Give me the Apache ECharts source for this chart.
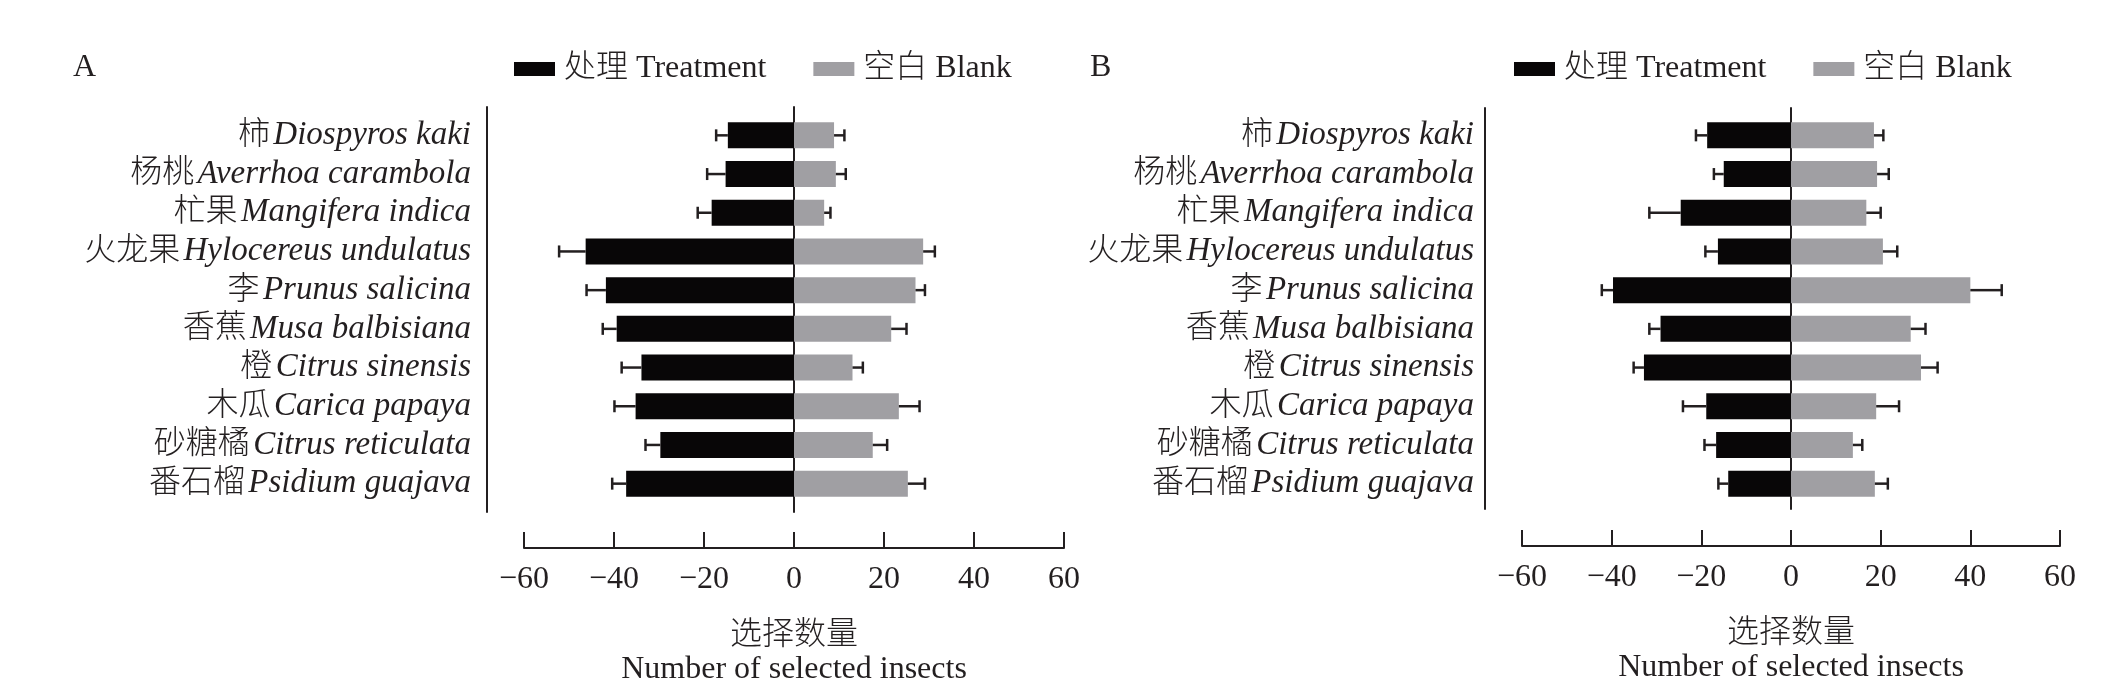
<!DOCTYPE html>
<html>
<head>
<meta charset="utf-8">
<script src="https://cdn.jsdelivr.net/npm/echarts@6/dist/echarts.min.js"></script>
<style>
html, body { margin: 0; padding: 0; background: #fff; }
#main { width: 2121px; height: 699px; }
</style>
</head>
<body>
<div id="main"></div>
<script>
// 果实名称 (中文 + 拉丁学名)
var cnNames = ['柿', '杨桃', '杧果', '火龙果', '李', '香蕉', '橙', '木瓜', '砂糖橘', '番石榴'];
var latinNames = ['Diospyros kaki', 'Averrhoa carambola', 'Mangifera indica', 'Hylocereus undulatus',
	'Prunus salicina', 'Musa balbisiana', 'Citrus sinensis', 'Carica papaya', 'Citrus reticulata', 'Psidium guajava'];
var xTicks = [-60, -40, -20, 0, 20, 40, 60];

// 图A
var treatA = [14.7, 15.2, 18.3, 46.3, 41.8, 39.4, 33.9, 35.2, 29.7, 37.3];
var treatAErr = [2.6, 4.1, 3.1, 5.9, 4.3, 3.1, 4.4, 4.7, 3.3, 3.1];
var blankA = [8.9, 9.3, 6.7, 28.7, 27.0, 21.6, 13.0, 23.3, 17.5, 25.3];
var blankAErr = [2.3, 2.2, 1.4, 2.6, 2.1, 3.4, 2.3, 4.6, 3.2, 3.8];

// 图B
var treatB = [18.7, 15.0, 24.6, 16.3, 39.7, 29.1, 32.8, 18.9, 16.7, 14.0];
var treatBErr = [2.5, 2.2, 7.0, 2.8, 2.5, 2.5, 2.3, 5.2, 2.6, 2.2];
var blankB = [18.5, 19.2, 16.8, 20.5, 40.0, 26.7, 29.0, 19.0, 13.8, 18.7];
var blankBErr = [2.1, 2.6, 3.2, 3.2, 7.0, 3.3, 3.7, 5.1, 2.1, 2.9];

var seriesNames = ['处理 Treatment', '空白 Blank'];
var colors = ['#080607', '#a09fa3'];
var ink = '#231f20';
var font = "'Liberation Serif', 'Noto Sans CJK SC', serif";

var myChart = echarts.init(document.getElementById('main'));

function errData(vals, errs, sign) {
	return vals.map(function (v, i) { return [sign * v, i, errs[i]]; });
}

function renderErr(params, api) {
	var v = api.value(0), i = api.value(1), e = api.value(2);
	var end = v < 0 ? v - e : v + e;
	var p0 = api.coord([v, i]);
	var p1 = api.coord([end, i]);
	var st = { stroke: ink, lineWidth: 2.5 };
	return {
		type: 'group',
		children: [
			{ type: 'line', shape: { x1: p0[0], y1: p0[1], x2: p1[0], y2: p1[1] }, style: st },
			{ type: 'line', shape: { x1: p1[0], y1: p1[1] - 6, x2: p1[0], y2: p1[1] + 6 }, style: st }
		]
	};
}

function valueAxis(gridIndex, offset, visible) {
	return {
		type: 'value',
		gridIndex: gridIndex,
		min: xTicks[0],
		max: xTicks[xTicks.length - 1],
		interval: 20,
		show: visible,
		offset: offset,
		position: 'bottom',
		name: '选择数量\nNumber of selected insects',
		nameLocation: 'middle',
		nameGap: 71,
		nameTextStyle: { fontFamily: font, fontSize: 32, fontWeight: 300, color: ink, lineHeight: 34 },
		axisLine: { show: true, onZero: false, lineStyle: { color: ink, width: 2 } },
		axisTick: { show: true, inside: true, length: 16, lineStyle: { color: ink, width: 2 } },
		axisLabel: {
			margin: 16,
			fontFamily: font,
			fontSize: 32,
			color: ink,
			formatter: function (v) { return v < 0 ? '\u2212' + (-v) : String(v); }
		},
		splitLine: { show: false }
	};
}

function catAxis(gridIndex, margin) {
	return {
		type: 'category',
		gridIndex: gridIndex,
		inverse: true,
		data: cnNames,
		axisLine: { show: false },
		axisTick: { show: false },
		axisLabel: {
			margin: margin,
			formatter: function (v, idx) {
				return '{cn|' + cnNames[idx] + '} {la|' + latinNames[idx] + '}';
			},
			rich: {
				cn: { fontFamily: font, fontSize: 32, fontWeight: 300, color: ink },
				la: { fontFamily: font, fontSize: 33, color: ink, fontStyle: 'italic' }
			}
		}
	};
}

function lineAxis(gridIndex, offset, onZero) {
	return {
		type: 'value',
		gridIndex: gridIndex,
		min: 0,
		max: 1,
		position: 'left',
		offset: offset,
		axisLine: { show: true, onZero: onZero, lineStyle: { color: ink, width: 2 } },
		axisTick: { show: false },
		axisLabel: { show: false },
		splitLine: { show: false }
	};
}

function barSeries(name, idx, data, color) {
	return {
		name: name,
		type: 'bar',
		xAxisIndex: idx,
		yAxisIndex: idx,
		barWidth: 26,
		barGap: '-100%',
		itemStyle: { color: color },
		data: data
	};
}

function errSeries(idx, data) {
	return {
		type: 'custom',
		xAxisIndex: idx,
		yAxisIndex: idx,
		encode: { x: 0, y: 1 },
		renderItem: renderErr,
		data: data,
		z: 5
	};
}

function legendAt(left) {
	return {
		left: left,
		top: 53,
		padding: 0,
		itemWidth: 41,
		itemHeight: 14,
		itemGap: 47,
		icon: 'rect',
		data: seriesNames,
		textStyle: { fontFamily: font, fontSize: 32, fontWeight: 300, color: ink, padding: [0, 0, 0, 4] }
	};
}

var option = {
	backgroundColor: '#fff',
	animation: false,
	title: [
		{ text: 'A', left: 73, top: 52, padding: 0, textStyle: { fontFamily: font, fontSize: 32, fontWeight: 'normal', color: ink } },
		{ text: 'B', left: 1090, top: 52, padding: 0, textStyle: { fontFamily: font, fontSize: 32, fontWeight: 'normal', color: ink } }
	],
	legend: [legendAt(514), legendAt(1514)],
	grid: [
		{ left: 524, width: 540, top: 116, height: 387 },
		{ left: 1522, width: 538, top: 116, height: 387 },
		{ left: 524, width: 540, top: 107, height: 405 },
		{ left: 1522, width: 538, top: 108, height: 401 }
	],
	xAxis: [
		valueAxis(0, 45, true),
		valueAxis(1, 43, true),
		valueAxis(2, 0, false),
		valueAxis(3, 0, false)
	],
	yAxis: [
		catAxis(0, 53),
		catAxis(1, 48),
		lineAxis(2, 37, false),
		lineAxis(2, 0, true),
		lineAxis(3, 37, false),
		lineAxis(3, 0, true)
	],
	series: [
		barSeries(seriesNames[0], 0, treatA.map(function (v) { return -v; }), colors[0]),
		barSeries(seriesNames[1], 0, blankA, colors[1]),
		errSeries(0, errData(treatA, treatAErr, -1)),
		errSeries(0, errData(blankA, blankAErr, 1)),
		barSeries(seriesNames[0], 1, treatB.map(function (v) { return -v; }), colors[0]),
		barSeries(seriesNames[1], 1, blankB, colors[1]),
		errSeries(1, errData(treatB, treatBErr, -1)),
		errSeries(1, errData(blankB, blankBErr, 1))
	]
};

myChart.setOption(option);
</script>
</body>
</html>
